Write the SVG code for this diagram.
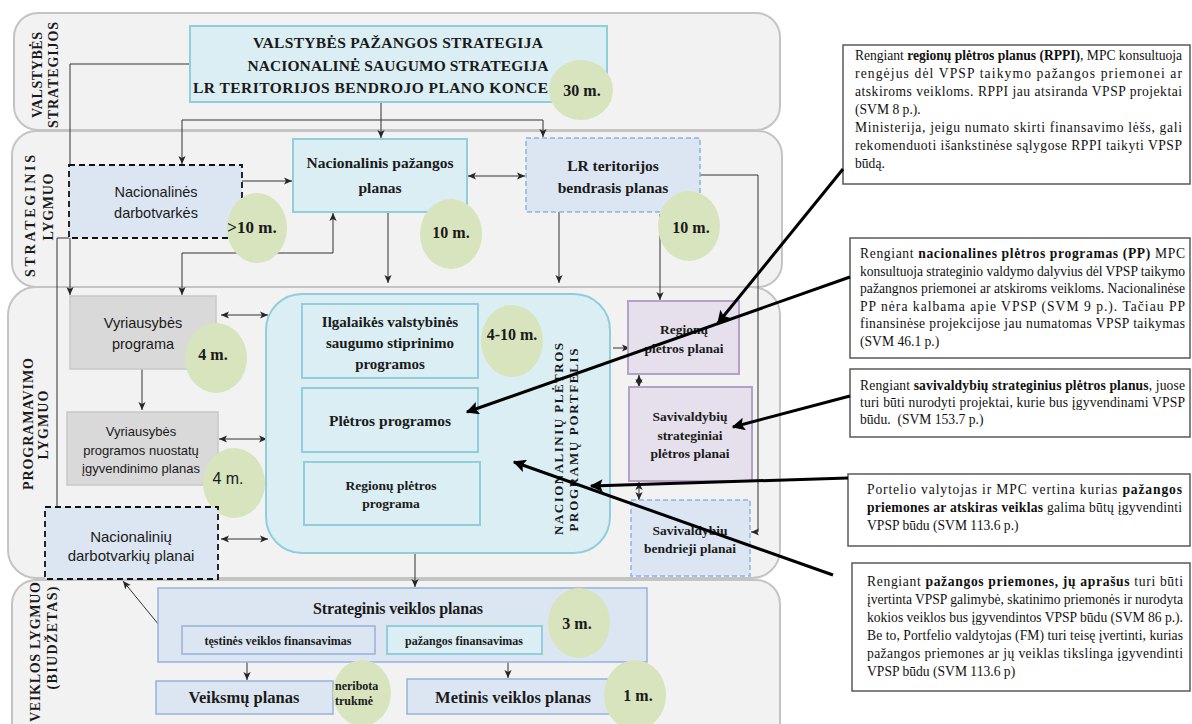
<svg xmlns="http://www.w3.org/2000/svg" width="1192" height="724" viewBox="0 0 1192 724">
<defs>
<style>
.band{fill:#f2f2f2;stroke:#c4c4c4;stroke-width:2}
.aq{fill:#daeef3;stroke:#92cddc;stroke-width:2}
.sb{fill:#dce6f2;stroke:#95b3d7;stroke-width:1.5}
.sbd{fill:#dce6f2;stroke:#8db3e2;stroke-width:1.5;stroke-dasharray:5 3}
.blkd{fill:#dce6f2;stroke:#111;stroke-width:1.8;stroke-dasharray:6 4}
.gr{fill:#d9d9d9;stroke:#c8c8c8;stroke-width:1.5}
.pu{fill:#e5e0ec;stroke:#b3a2c7;stroke-width:2}
.cir{fill:#d7e4bd}
.co{fill:#fff;stroke:#595959;stroke-width:1.5}
.ln{fill:none;stroke:#333;stroke-width:1}
.big{fill:none;stroke:#000;stroke-width:3}
.sf{font-family:"Liberation Serif","Times New Roman",serif;font-weight:bold;fill:#1a1a1a}
.ss{font-family:"Liberation Sans",Arial,sans-serif;fill:#1a1a1a}
.ct{font-family:"Liberation Serif","Times New Roman",serif;font-size:13.6px;fill:#111}
.lbl{font-family:"Liberation Serif","Times New Roman",serif;font-weight:bold;font-size:14px;fill:#1a1a1a}
</style>
<marker id="ah" viewBox="0 0 10 10" refX="10" refY="5" markerWidth="8" markerHeight="8" markerUnits="userSpaceOnUse" orient="auto-start-reverse"><path d="M0,0.5 L10,5 L0,9.5 L2.5,5 z" fill="#262626"/></marker>
<marker id="bh" viewBox="0 0 10 10" refX="9" refY="5" markerWidth="16" markerHeight="13" markerUnits="userSpaceOnUse" orient="auto"><path d="M0,0 L10,5 L0,10 L2,5 z" fill="#000"/></marker>
</defs>
<rect x="0" y="0" width="1192" height="724" fill="#fff"/>

<g id="bands">
<rect class="band" x="14" y="13" width="766" height="117" rx="24"/>
<rect class="band" x="12" y="131" width="770" height="156" rx="24"/>
<rect class="band" x="8" y="287" width="772" height="291" rx="28"/>
<rect class="band" x="12" y="580" width="768" height="170" rx="24"/>
<text class="lbl" transform="translate(37,75) rotate(-90)" text-anchor="middle" dominant-baseline="central" textLength="86">VALSTYBĖS</text>
<text class="lbl" transform="translate(53,75) rotate(-90)" text-anchor="middle" dominant-baseline="central" textLength="106">STRATEGIJOS</text>
<text class="lbl" transform="translate(30,216) rotate(-90)" text-anchor="middle" dominant-baseline="central" textLength="122">STRATEGINIS</text>
<text class="lbl" transform="translate(48,207) rotate(-90)" text-anchor="middle" dominant-baseline="central" textLength="67">LYGMUO</text>
<text class="lbl" transform="translate(28,424) rotate(-90)" text-anchor="middle" dominant-baseline="central" textLength="132">PROGRAMAVIMO</text>
<text class="lbl" transform="translate(43,425) rotate(-90)" text-anchor="middle" dominant-baseline="central" textLength="69">LYGMUO</text>
<text class="lbl" transform="translate(35,652) rotate(-90)" text-anchor="middle" dominant-baseline="central" textLength="140">VEIKLOS LYGMUO</text>
<text class="lbl" transform="translate(52,638) rotate(-90)" text-anchor="middle" dominant-baseline="central" textLength="103">(BIUDŽETAS)</text>
</g>

<g id="connectors">
<path class="ln" d="M381,102 V138" marker-end="url(#ah)"/>
<path class="ln" d="M182,164 V120 H543 V137" marker-start="url(#ah)" marker-end="url(#ah)"/>
<path class="ln" d="M190,64 H70 V295" marker-end="url(#ah)"/>
<path class="ln" d="M242,181 H292" marker-end="url(#ah)"/>
<path class="ln" d="M182,295 V253 H333 V213" marker-start="url(#ah)" marker-end="url(#ah)"/>
<path class="ln" d="M468,176 H525" stroke-width="1.5" marker-start="url(#ah)" marker-end="url(#ah)"/>
<path class="ln" d="M388,212 V283" marker-end="url(#ah)"/>
<path class="ln" d="M559,212 V283" marker-end="url(#ah)"/>
<path class="ln" d="M660,214 V300" marker-end="url(#ah)"/>
<path class="ln" d="M700,175 H758 V532 H751" marker-end="url(#ah)"/>
<path class="ln" d="M69,238 H57 V522 L72,531" marker-end="url(#ah)"/>
<path class="ln" d="M142,369 V410" marker-end="url(#ah)"/>
<path class="ln" d="M221,315 H268" marker-start="url(#ah)" marker-end="url(#ah)"/>
<path class="ln" d="M219,439 H267" marker-start="url(#ah)" marker-end="url(#ah)"/>
<path class="ln" d="M221,539 H268" marker-start="url(#ah)" marker-end="url(#ah)"/>
<path class="ln" d="M613,348 H630" marker-end="url(#ah)"/>
<path class="ln" d="M415,553 V587" marker-end="url(#ah)"/>
<path class="ln" d="M639,375 V387" marker-start="url(#ah)" marker-end="url(#ah)"/>
<path class="ln" d="M639,482 V500" marker-start="url(#ah)" marker-end="url(#ah)"/>
<path class="ln" d="M123,581 L177,647" marker-start="url(#ah)" marker-end="url(#ah)"/>
<path class="ln" d="M247,662 V680" marker-end="url(#ah)"/>
<path class="ln" d="M508,662 V678" marker-end="url(#ah)"/>
</g>

<g id="n-strategijos">
<rect class="aq" x="190" y="26" width="417" height="76"/>
<text class="sf" font-size="15.5" x="398" y="48" text-anchor="middle" textLength="290">VALSTYBĖS PAŽANGOS STRATEGIJA</text>
<text class="sf" font-size="15.5" x="398" y="71" text-anchor="middle" textLength="301">NACIONALINĖ SAUGUMO STRATEGIJA</text>
<text class="sf" font-size="15.5" x="193" y="93" textLength="355">LR TERITORIJOS BENDROJO PLANO KONCE</text>
<ellipse class="cir" cx="581" cy="90" rx="32" ry="30"/>
<text class="sf" font-size="16" x="582" y="96" text-anchor="middle">30 m.</text>
</g>

<g id="n-nac-darbotvarkes">
<rect class="blkd" x="69" y="165" width="173" height="73"/>
<text class="ss" font-size="14.5" x="156" y="197" text-anchor="middle">Nacionalinės</text>
<text class="ss" font-size="14.5" x="156" y="218" text-anchor="middle">darbotvarkės</text>
<ellipse class="cir" cx="257" cy="228" rx="30" ry="35"/>
<text class="sf" font-size="17" x="252" y="233" text-anchor="middle">&gt;10 m.</text>
</g>

<g id="n-npp">
<rect class="aq" x="293" y="139" width="174" height="73"/>
<text class="sf" font-size="15.5" x="380" y="168" text-anchor="middle">Nacionalinis pažangos</text>
<text class="sf" font-size="15.5" x="380" y="193" text-anchor="middle">planas</text>
<ellipse class="cir" cx="451" cy="234" rx="31" ry="35"/>
<text class="sf" font-size="16" x="451" y="238" text-anchor="middle">10 m.</text>
</g>

<g id="n-lr-bendrasis">
<rect class="sbd" x="526" y="138" width="174" height="74"/>
<text class="sf" font-size="15.5" x="613" y="171" text-anchor="middle">LR teritorijos</text>
<text class="sf" font-size="15.5" x="613" y="193" text-anchor="middle">bendrasis planas</text>
<ellipse class="cir" cx="689" cy="226" rx="31" ry="35"/>
<text class="sf" font-size="16" x="691" y="233" text-anchor="middle">10 m.</text>
</g>

<g id="n-vyr-programa">
<rect class="gr" x="70" y="296" width="146" height="73"/>
<text class="ss" font-size="14.5" x="143" y="328" text-anchor="middle">Vyriausybės</text>
<text class="ss" font-size="14.5" x="143" y="349" text-anchor="middle">programa</text>
<ellipse class="cir" cx="216" cy="358" rx="31" ry="35"/>
<text class="sf" font-size="16" x="213" y="360" text-anchor="middle">4 m.</text>
</g>

<g id="n-vyr-nuostatu">
<rect class="gr" x="67" y="412" width="151" height="73"/>
<text class="ss" font-size="13" x="141" y="436" text-anchor="middle">Vyriausybės</text>
<text class="ss" font-size="13" x="141" y="455" text-anchor="middle">programos nuostatų</text>
<text class="ss" font-size="13" x="141" y="473" text-anchor="middle">įgyvendinimo planas</text>
<ellipse class="cir" cx="234" cy="483" rx="31" ry="35"/>
<text class="ss" font-size="16" x="228" y="484" text-anchor="middle">4 m.</text>
</g>

<g id="n-nac-darbotvarkiu-planai">
<rect class="blkd" x="45" y="507" width="173" height="72"/>
<text class="ss" font-size="15" x="131" y="542" text-anchor="middle">Nacionalinių</text>
<text class="ss" font-size="15" x="131" y="561" text-anchor="middle">darbotvarkių planai</text>
</g>

<g id="n-portfelis">
<rect class="aq" x="266" y="294" width="344" height="259" rx="36"/>
<rect class="aq" x="302" y="304" width="176" height="74"/>
<text class="sf" font-size="15" x="390" y="327" text-anchor="middle">Ilgalaikės valstybinės</text>
<text class="sf" font-size="15" x="390" y="348" text-anchor="middle">saugumo stiprinimo</text>
<text class="sf" font-size="15" x="390" y="369" text-anchor="middle">programos</text>
<rect class="aq" x="302" y="388" width="176" height="64"/>
<text class="sf" font-size="15.5" x="390" y="426" text-anchor="middle">Plėtros programos</text>
<rect class="aq" x="304" y="462" width="176" height="63"/>
<text class="sf" font-size="13.5" x="391" y="490" text-anchor="middle">Regionų plėtros</text>
<text class="sf" font-size="13.5" x="391" y="508" text-anchor="middle">programa</text>
<ellipse class="cir" cx="512" cy="341" rx="31" ry="36"/>
<text class="sf" font-size="16" x="512" y="340" text-anchor="middle">4-10 m.</text>
<text class="sf" font-size="13" transform="translate(558,439) rotate(-90)" text-anchor="middle" dominant-baseline="central" textLength="192">NACIONALINIŲ PLĖTROS</text>
<text class="sf" font-size="13" transform="translate(573,440) rotate(-90)" text-anchor="middle" dominant-baseline="central" textLength="183">PROGRAMŲ PORTFELIS</text>
</g>

<g id="n-regionu-planai">
<rect class="pu" x="628" y="301" width="111" height="73"/>
<text class="sf" font-size="13.5" x="684" y="334" text-anchor="middle">Regionų</text>
<text class="sf" font-size="13.5" x="684" y="353" text-anchor="middle">plėtros planai</text>
</g>

<g id="n-sav-strateginiai">
<rect class="pu" x="629" y="387" width="123" height="94"/>
<text class="sf" font-size="13.5" x="690" y="421" text-anchor="middle">Savivaldybių</text>
<text class="sf" font-size="13.5" x="690" y="440" text-anchor="middle">strateginiai</text>
<text class="sf" font-size="13.5" x="690" y="458" text-anchor="middle">plėtros planai</text>
</g>

<g id="n-sav-bendrieji">
<rect class="sbd" x="631" y="500" width="119" height="76"/>
<text class="sf" font-size="13.5" x="690" y="535" text-anchor="middle">Savivaldybių</text>
<text class="sf" font-size="13.5" x="690" y="553" text-anchor="middle">bendrieji planai</text>
</g>

<g id="n-strateginis-veiklos">
<rect class="sb" x="158" y="588" width="489" height="74"/>
<text class="sf" font-size="16" x="398" y="614" text-anchor="middle" textLength="170">Strateginis veiklos planas</text>
<rect class="sb" x="182" y="626" width="193" height="28"/>
<text class="sf" font-size="12" x="278" y="645" text-anchor="middle" textLength="147">tęstinės veiklos finansavimas</text>
<rect class="aq" x="387" y="626" width="155" height="28" stroke-width="1.5"/>
<text class="sf" font-size="12" x="464" y="645" text-anchor="middle" textLength="118">pažangos finansavimas</text>
<ellipse class="cir" cx="579" cy="623" rx="31" ry="35"/>
<text class="sf" font-size="16" x="577" y="629" text-anchor="middle">3 m.</text>
</g>

<g id="n-veiksmu-planas">
<rect class="sb" x="156" y="681" width="177" height="33"/>
<text class="sf" font-size="16.5" x="244" y="703" text-anchor="middle">Veiksmų planas</text>
<ellipse class="cir" cx="362" cy="693" rx="29" ry="33"/>
<text class="sf" font-size="12" x="335" y="690">neribota</text>
<text class="sf" font-size="12" x="335" y="705">trukmė</text>
</g>

<g id="n-metinis">
<rect class="sb" x="407" y="679" width="215" height="35"/>
<text class="sf" font-size="16.5" x="513" y="703" text-anchor="middle">Metinis veiklos planas</text>
<ellipse class="cir" cx="635" cy="695" rx="31" ry="35"/>
<text class="sf" font-size="16" x="638" y="701" text-anchor="middle">1 m.</text>
</g>

<g id="callout-1">
<rect class="co" x="843" y="45" width="347" height="139"/>
<text class="ct" x="855" y="60" textLength="327" lengthAdjust="spacing">Rengiant <tspan font-weight="bold">regionų plėtros planus (RPPI)</tspan>, MPC konsultuoja</text>
<text class="ct" x="855" y="78" textLength="327" lengthAdjust="spacing">rengėjus dėl VPSP taikymo pažangos priemonei ar</text>
<text class="ct" x="855" y="96" textLength="327" lengthAdjust="spacing">atskiroms veikloms. RPPI jau atsiranda VPSP projektai</text>
<text class="ct" x="855" y="114">(SVM 8 p.).</text>
<text class="ct" x="855" y="132" textLength="327" lengthAdjust="spacing">Ministerija, jeigu numato skirti finansavimo lėšs, gali</text>
<text class="ct" x="855" y="150" textLength="327" lengthAdjust="spacing">rekomenduoti išankstinėse sąlygose RPPI taikyti VPSP</text>
<text class="ct" x="855" y="168">būdą.</text>
</g>

<g id="callout-2">
<rect class="co" x="850" y="238" width="340" height="120"/>
<text class="ct" x="860" y="258" textLength="325" lengthAdjust="spacing">Rengiant <tspan font-weight="bold">nacionalines plėtros programas (PP)</tspan> MPC</text>
<text class="ct" x="860" y="275.5" textLength="325" lengthAdjust="spacing">konsultuoja strateginio valdymo dalyvius dėl VPSP taikymo</text>
<text class="ct" x="860" y="293" textLength="325" lengthAdjust="spacing">pažangnos priemonei ar atskiroms veikloms. Nacionalinėse</text>
<text class="ct" x="860" y="310.5" textLength="325" lengthAdjust="spacing">PP nėra kalbama apie VPSP (SVM 9 p.). Tačiau PP</text>
<text class="ct" x="860" y="328" textLength="325" lengthAdjust="spacing">finansinėse projekcijose jau numatomas VPSP taikymas</text>
<text class="ct" x="860" y="345.5">(SVM 46.1 p.)</text>
</g>

<g id="callout-3">
<rect class="co" x="850" y="369" width="340" height="68"/>
<text class="ct" x="860" y="390" textLength="325" lengthAdjust="spacing">Rengiant <tspan font-weight="bold">savivaldybių strateginius plėtros planus</tspan>, juose</text>
<text class="ct" x="860" y="407" textLength="325" lengthAdjust="spacing">turi būti nurodyti projektai, kurie bus įgyvendinami VPSP</text>
<text class="ct" x="860" y="424" xml:space="preserve">būdu.  (SVM 153.7 p.)</text>
</g>

<g id="callout-4">
<rect class="co" x="848" y="474" width="342" height="72"/>
<text class="ct" x="867" y="494" textLength="315" lengthAdjust="spacing">Portelio valytojas ir MPC vertina kurias <tspan font-weight="bold">pažangos</tspan></text>
<text class="ct" x="867" y="512" textLength="315" lengthAdjust="spacing"><tspan font-weight="bold">priemones ar atskiras veiklas</tspan> galima būtų įgyvendinti</text>
<text class="ct" x="867" y="530">VPSP būdu (SVM 113.6 p.)</text>
</g>

<g id="callout-5">
<rect class="co" x="852" y="563" width="338" height="128"/>
<text class="ct" x="867" y="586" textLength="316" lengthAdjust="spacing">Rengiant <tspan font-weight="bold">pažangos priemones, jų aprašus</tspan> turi būti</text>
<text class="ct" x="867" y="604" textLength="316" lengthAdjust="spacing">įvertinta VPSP galimybė, skatinimo priemonės ir nurodyta</text>
<text class="ct" x="867" y="622" textLength="316" lengthAdjust="spacing">kokios veiklos bus įgyvendintos VPSP būdu (SVM 86 p.).</text>
<text class="ct" x="867" y="640" textLength="316" lengthAdjust="spacing">Be to, Portfelio valdytojas (FM) turi teisę įvertinti, kurias</text>
<text class="ct" x="867" y="658" textLength="316" lengthAdjust="spacing">pažangos priemones ar jų veiklas tikslinga įgyvendinti</text>
<text class="ct" x="867" y="676">VPSP būdu (SVM 113.6 p)</text>
</g>

<g id="callout-connectors">
<path class="big" d="M843,169 L718,323" marker-end="url(#bh)"/>
<path class="big" d="M850,277 L467,412" marker-end="url(#bh)"/>
<path class="big" d="M850,396 L733,427" marker-end="url(#bh)"/>
<path class="big" d="M848,478 L591,486" marker-end="url(#bh)"/>
<path class="big" d="M833,575 L514,462" marker-end="url(#bh)"/>
</g>
</svg>
